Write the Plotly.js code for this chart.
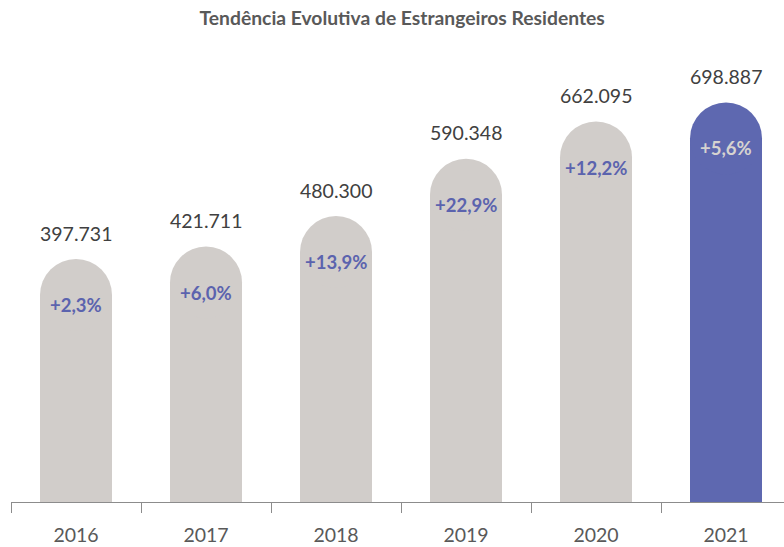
<!DOCTYPE html>
<html>
<head>
<meta charset="utf-8">
<script src="https://cdn.plot.ly/plotly-3.0.1.min.js"></script>
<style>html,body{margin:0;padding:0;background:#fff;}#chart{width:784px;height:547px;}</style>
</head>
<body>
<div id="chart"></div>
<script>
const years = ['2016', '2017', '2018', '2019', '2020', '2021'];
const residents = [397731, 421711, 480300, 590348, 662095, 698887];
const growthPct = [2.3, 6.0, 13.9, 22.9, 12.2, 5.6];

const GREY = '#d1cdca';
const BLUE = '#5e68b0';
const barColors = years.map((y, i) => i === years.length - 1 ? BLUE : GREY);
const pctColors = years.map((y, i) => i === years.length - 1 ? '#d6d3d0' : '#5b63ae');
const FONT = 'Lato';

function fmtThousands(v) {
  const s = String(v);
  return s.slice(0, s.length - 3) + '.' + s.slice(s.length - 3);
}
function fmtPct(v) {
  return '+' + v.toFixed(1).replace('.', ',') + '%';
}

const bars = {
  type: 'bar',
  x: years,
  y: residents,
  width: 0.554,
  marker: { color: barColors, line: { width: 0 } },
  hoverinfo: 'skip'
};
const caps = {
  type: 'scatter',
  mode: 'markers',
  x: years,
  y: residents,
  marker: { symbol: 'circle', size: 72, color: barColors, line: { width: 0 } },
  hoverinfo: 'skip',
  cliponaxis: false
};

const annotations = [];
for (let i = 0; i < years.length; i++) {
  annotations.push({
    x: i, y: residents[i], xref: 'x', yref: 'y',
    text: fmtThousands(residents[i]), showarrow: false,
    yshift: 62,
    font: { family: FONT, size: 19.5, color: '#404040' }
  });
  annotations.push({
    x: i, y: residents[i], xref: 'x', yref: 'y',
    text: '<b>' + fmtPct(growthPct[i]) + '</b>', showarrow: false,
    yshift: -10,
    font: { family: FONT, size: 18.5, color: pctColors[i] }
  });
}

const layout = {
  width: 784, height: 547,
  paper_bgcolor: '#ffffff', plot_bgcolor: '#ffffff',
  margin: { l: 11, r: 0, t: 40, b: 45 },
  showlegend: false,
  title: {
    text: '<b>Tendência Evolutiva de Estrangeiros Residentes</b>',
    x: 0.513, xanchor: 'center', y: 0.967, yanchor: 'middle',
    font: { family: FONT, size: 19.3, color: '#595959' }
  },
  xaxis: {
    type: 'category',
    range: [-0.5, 5.446],
    showline: true, linecolor: '#8c8c8c', linewidth: 1,
    ticks: 'outside', tickson: 'boundaries', ticklen: 10, tickcolor: '#8c8c8c', tickwidth: 1,
    ticklabelstandoff: 16,
    tickfont: { family: FONT, size: 19.5, color: '#595959' },
    showgrid: false, zeroline: false, fixedrange: true
  },
  yaxis: {
    range: [0, 888000],
    visible: false, showgrid: false, zeroline: false, fixedrange: true
  },
  annotations: annotations,
  bargap: 0
};

Plotly.newPlot('chart', [bars, caps], layout, { displayModeBar: false });
</script>
</body>
</html>
